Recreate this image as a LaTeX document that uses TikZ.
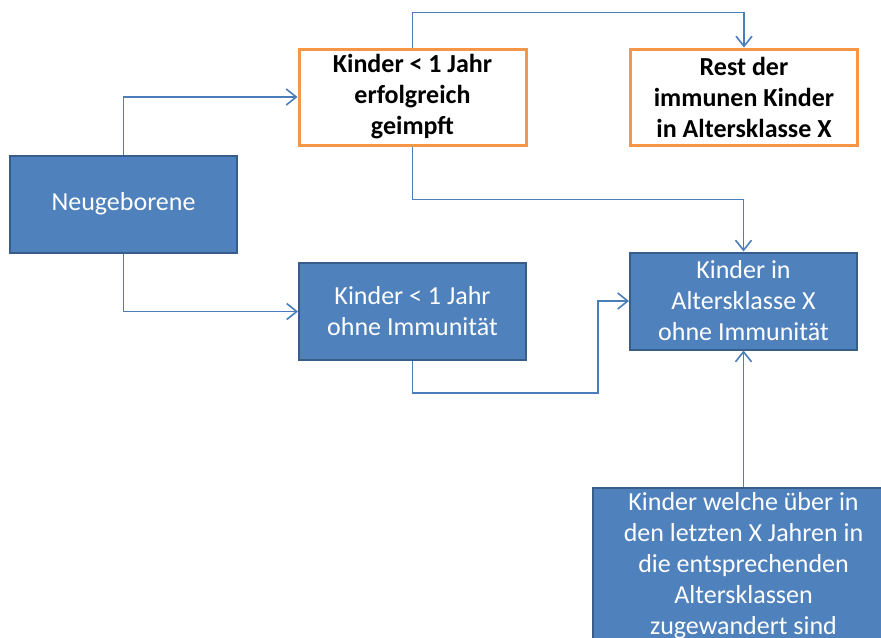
\documentclass[tikz,border=0pt]{standalone}
\usepackage{fontspec}
\setmainfont{Carlito}
\usetikzlibrary{arrows.meta}
\definecolor{boxblue}{HTML}{4F81BD}
\definecolor{boxedge}{HTML}{385D8A}
\definecolor{boxorange}{HTML}{F79646}
\definecolor{linkblue}{HTML}{4A7EBB}
\begin{document}
\begin{tikzpicture}[x=0.5pt,y=-0.5pt,>={Straight Barb[length=5pt,width=8pt]},
	  bluebox/.style={draw=boxedge,line width=1pt,fill=boxblue,text=white,align=center,
	    font=\fontsize{13}{15.5}\selectfont,minimum width=113.5pt,minimum height=48.5pt,inner sep=0pt},
	  orangebox/.style={draw=boxorange,line width=1.5pt,fill=white,text=black,align=center,
	    font=\fontsize{13}{15.5}\selectfont\bfseries,minimum width=113.5pt,minimum height=48pt,inner sep=0pt},
	  link/.style={draw=linkblue,line width=0.8pt}]
	  \useasboundingbox (0,0) rectangle (881,637);
	  \clip (0,0) rectangle (881,637);
	  \node[bluebox] (neu) at (123.5,204) {Neugeborene};
	  \node[orangebox] (geimpft) at (412.5,97) {Kinder < 1 Jahr\\erfolgreich\\geimpft};
	  \node[orangebox] (rest) at (744,97) {Rest der\\immunen Kinder\\in Altersklasse X};
	  \node[bluebox] (ohne) at (412.5,311.5) {Kinder < 1 Jahr\\ohne Immunität};
	  \node[bluebox] (alter) at (743.5,301) {Kinder in\\Altersklasse X\\ohne Immunität};
	  \node[bluebox,minimum width=151pt,minimum height=78pt] (zu) at (743.5,566)
	    {Kinder welche über in\\den letzten X Jahren in\\die entsprechenden\\Altersklassen\\zugewandert sind};
	  \coordinate (knick) at (598,393);
	  \draw[link,->] (neu.north) |- (geimpft.west);
	  \draw[link,->] (neu.south) |- (ohne.west);
	  \draw[link,->] (geimpft.north) -- ++(0,-35) -| (rest.north);
	  \draw[link,->] (geimpft.south) -- ++(0,53) -| (alter.north);
	  \draw[link,->] (ohne.south) |- (knick) |- (alter.west);
	  \draw[link,->] (zu.north) -- (alter.south);
	\end{tikzpicture}
\end{document}
